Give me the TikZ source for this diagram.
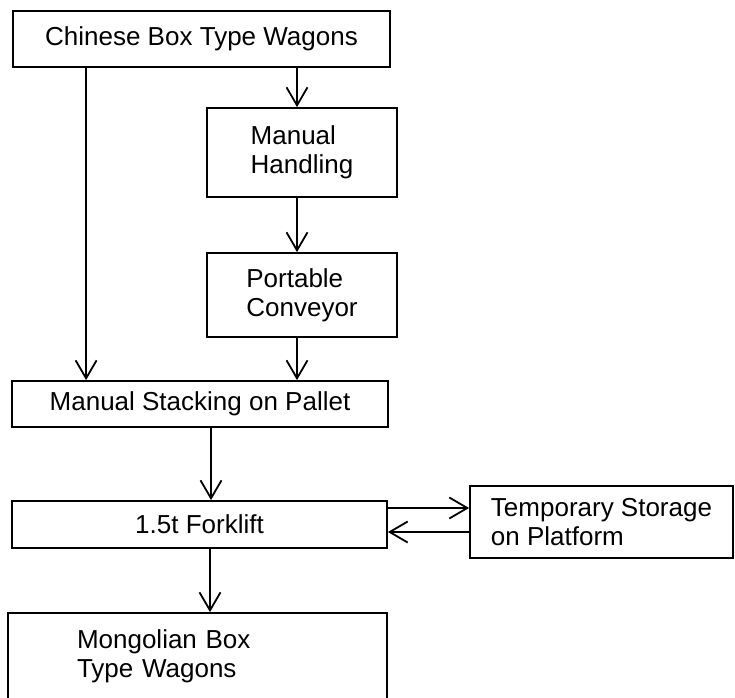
\documentclass[tikz,border=0pt]{standalone}
\usepackage{fontspec}
\setmainfont{Liberation Sans}
\usetikzlibrary{arrows.meta}

\tikzset{
  stage/.style={draw, line width=1.8pt, inner sep=0pt, align=left,
    font=\fontsize{26}{29}\selectfont},
}

\begin{document}
\begin{tikzpicture}[x=1pt, y=-1pt, line width=1.8pt,
    >={Straight Barb[length=18pt, width=21pt]}]
  \useasboundingbox (0,0) rectangle (735,697);

  \node (cbw) [stage, minimum width=377pt, minimum height=56pt] at (201.5,39) {Chinese Box Type Wagons};
  \node (mh) [stage, minimum width=190pt, minimum height=89pt] at (302,152.5) {Manual\\Handling};
  \node (pc) [stage, minimum width=190pt, minimum height=84pt] at (302,295) {Portable\\Conveyor};
  \node (ms) [stage, minimum width=376pt, minimum height=46pt] at (200,404) {Manual Stacking on Pallet};
  \node (fl) [stage, minimum width=375pt, minimum height=47pt] at (199.5,524.5) {1.5t Forklift};
  \node (ts) [stage, minimum width=263pt, minimum height=72pt] at (601.5,522) {Temporary Storage\\on Platform};
  \node (mbw) [stage, text width=241pt, inner xsep=69pt, minimum height=87pt] at (197.5,656.5) {Mongolian Box\\Type Wagons};

  \coordinate (lft) at ([xshift=74pt]cbw.south west);
  \coordinate (mhtop) at ([xshift=-5pt]mh.north);
  \coordinate (pcbot) at ([xshift=-5pt]pc.south);
  \coordinate (msbot) at ([xshift=11pt]ms.south);
  \coordinate (flhi) at ([yshift=16.5pt]fl.east);
  \coordinate (fllo) at ([yshift=-7.5pt]fl.east);
  \coordinate (flbot) at ([xshift=10.5pt]fl.south);

  \path[->]
  (lft) edge (lft |- ms.north)
  (mhtop |- cbw.south) edge (mhtop)
  ([xshift=-5pt]mh.south) edge ([xshift=-5pt]pc.north)
  (pcbot) edge (pcbot |- ms.north)
  (msbot) edge (msbot |- fl.north)
  (flhi) edge (flhi -| ts.west)
  (fllo -| ts.west) edge (fllo)
  (flbot) edge (flbot |- mbw.north)
  ;
\end{tikzpicture}
\end{document}
